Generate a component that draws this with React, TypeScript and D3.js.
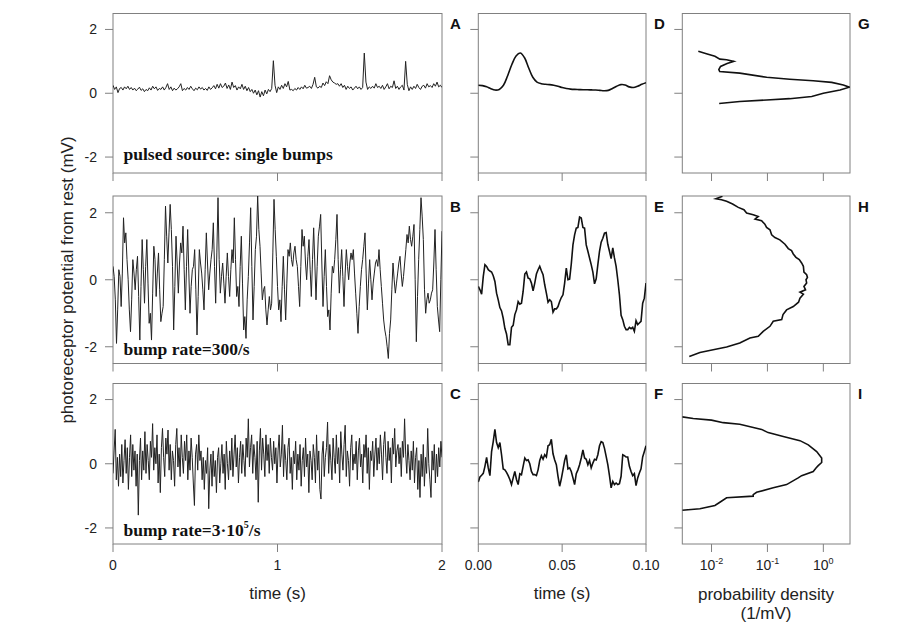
import * as d3 from 'd3';
import React, { useEffect, useRef } from 'react';

// ---- data ----
// A: pulsed source, 0..2 s, dt = 0.01 s (mV)
const singleBumps = [
  0.25, 0.12, 0.2, 0.02, 0.15, 0.18, 0.1, 0.2, 0.14, 0.22, 0.12, 0.18, 0.1, 0.16, 0.08, 0.13, 0.19, 0.09, 0.14, 0.05,
  0.12, 0.08, 0.17, 0.1, 0.22, 0.14, 0.2, 0.09, 0.15, 0.12, 0.2, 0.1, 0.18, 0.3, 0.12, 0.2, 0.08, 0.16, 0.1, 0.14,
  0.2, 0.3, 0.08, 0.15, 0.1, 0.18, 0.12, 0.22, 0.14, 0.08, 0.16, 0.11, 0.2, 0.13, 0.18, 0.1, 0.15, 0.09, 0.2, 0.12,
  0.17, 0.24, 0.14, 0.28, 0.16, 0.3, 0.18, 0.22, 0.32, 0.15, 0.26, 0.12, 0.35, 0.18, 0.24, 0.1, 0.2, 0.14, 0.28, 0.12,
  0.22, 0.08, 0.18, 0.05, 0.12, 0.0, 0.1, -0.05, 0.08, -0.12, 0.05, -0.08, 0.1, -0.02, 0.12, 0.05, 0.15, 1.02, 0.25, 0.02,
  0.2, 0.12, 0.25, 0.15, 0.3, 0.2, 0.37, 0.1, 0.12, 0.08, 0.15, 0.1, 0.18, 0.12, 0.2, 0.14, 0.25, 0.16, 0.18, 0.22,
  0.15, 0.28, 0.5, 0.2, 0.16, 0.22, 0.18, 0.32, 0.24, 0.36, 0.3, 0.55, 0.42, 0.35, 0.32, 0.28, 0.3, 0.22, 0.3, 0.18,
  0.25, 0.12, 0.22, 0.15, 0.2, 0.1, 0.16, 0.22, 0.14, 0.2, 0.12, 0.18, 1.26, 0.35, 0.12, 0.2, 0.15, 0.22, 0.16, 0.3,
  0.18, 0.22, 0.15, 0.25, 0.12, 0.2, 0.3, 0.14, 0.22, 0.18, 0.39, 0.15, 0.22, 0.12, 0.2, 0.25, 0.1, 1.0, 0.28, 0.08,
  0.2, 0.12, 0.22, 0.15, 0.28, 0.18, 0.12, 0.22, 0.25, 0.16, 0.3, 0.2, 0.24, 0.18, 0.3, 0.22, 0.35, 0.2, 0.25, 0.18,
];

// B: bump rate 300/s, 0..2 s, evenly spaced (mV)
const rate300 = [
  0.4, 0.1, -0.6, -1.9, -0.9, 0.3, 0.1, -0.8, 0.2, 1.85, 1.1, 1.4, 0.6, 0.0, -0.9, -1.55, -0.6, 0.6, 0.2, -0.3,
  0.3, 0.7, -0.5, -1.8, -0.2, 1.2, 0.3, -0.7, 0.4, 1.2, -0.1, -1.3, -1.0, -1.8, -0.4, 1.0, 0.6, -0.5, 0.2, 0.8,
  -0.3, -1.25, -1.0, -0.8, 0.6, 2.2, 1.3, 0.5, 1.4, 2.25, 1.5, 0.4, -1.5, -0.2, 1.3, 0.5, -0.4, 0.5, 1.1, 0.8,
  1.6, 0.3, -0.9, 0.4, 1.5, 0.2, -1.0, -0.2, 0.3, 0.4, 0.9, -0.3, -1.65, -0.5, 0.9, 0.5, 0.2, -0.3, -0.9, 0.3,
  1.4, 0.5, -0.3, 0.2, 0.6, 0.9, 1.7, 0.4, -0.7, 0.8, 2.45, 0.6, -0.4, 0.1, 0.5, -0.1, -0.7, 0.1, 0.8, 0.1,
  -0.5, 0.3, 0.9, 0.5, 1.85, 0.6, -0.5, -0.2, -0.8, 0.4, 1.3, -0.1, -1.5, -1.1, -1.75, -0.6, 0.1, 1.1, 2.15, 0.4,
  -1.2, -0.2, 0.9, 1.3, 2.5, 1.5, 1.0, 0.2, -0.6, -0.3, -0.2, -0.9, -1.35, -0.9, -0.5, -0.9, -0.7, 0.8, 2.4, 1.5,
  0.7, -0.2, -0.9, -0.6, -1.25, -0.2, 0.7, -0.3, -1.2, -0.1, 0.9, 0.7, 1.1, 0.6, 0.4, 0.8, 1.0, 0.6, 0.4, -0.2,
  -0.8, 0.4, 1.5, 1.0, 1.3, 0.5, 0.0, 0.7, 1.2, 0.3, -0.5, 0.6, 1.55, 0.5, -0.6, 0.4, 1.3, 1.6, 1.95, 0.5,
  -0.8, 0.1, 0.9, -0.2, -1.1, -0.9, -1.5, -0.4, 0.4, 0.2, 0.6, 1.2, 1.95, 0.6, -0.4, 0.3, 0.9, 0.1, -0.8, 0.2,
  0.9, 0.4, 0.0, 0.5, 0.8, 0.6, 0.9, 0.2, -0.4, -1.0, -1.6, -0.8, -0.2, 0.3, 0.6, 1.0, 1.4, 0.2, -0.9, -0.1,
  0.6, 0.0, -0.6, -0.1, 0.2, 0.5, 0.6, 0.4, 0.9, 0.3, -0.2, -0.7, -1.2, -1.5, -1.7, -2.0, -2.35, -1.6, -1.2, -0.3,
  0.5, 0.0, -0.4, -0.1, 0.2, 0.5, 0.7, 0.2, -0.2, 0.1, 0.5, 0.9, 1.35, 1.1, 1.6, 1.2, 1.0, 1.3, 1.65, 0.0,
  -1.85, -0.5, 0.6, 1.5, 2.45, 1.9, 1.2, -0.3, -1.0, -0.6, -0.4, -0.7, -0.6, -0.4, -0.3, 0.5, 1.5, 0.3, -0.8, -1.2,
  -1.55, 0.0, 1.45,
];

// C: bump rate 3e5/s, 0..2 s, evenly spaced (mV)
const rateHigh = [
  -0.3, 0.4, 1.07, -0.5, 0.2, -0.7, 0.3, -0.4, 0.6, -0.6, 0.1, 0.75, -0.3, 0.5, -0.8, 0.2, 0.9, -0.4, 0.6, -0.2,
  0.4, -0.7, 0.3, -1.6, 0.1, 0.8, -0.5, 0.4, -0.2, 1.0, -0.3, 0.6, 0.1, -0.5, 0.7, 0.2, 1.25, -0.2, 0.5, 0.0,
  0.9, -0.6, 0.3, -0.9, 0.5, 1.1, 0.2, -0.4, 0.8, 0.3, 1.05, -0.2, 0.6, -0.5, 0.4, 0.1, -0.7, 0.6, 1.1, -0.1,
  0.5, -0.4, 0.9, 0.2, -0.3, 0.7, 0.1, 0.9, -0.5, 0.4, -0.2, 0.8, 0.2, -0.6, -1.3, 0.3, 0.6, -0.2, 0.9, 0.1,
  0.4, -0.5, 0.2, -0.8, 0.1, -0.3, 0.5, -1.4, -0.2, 0.3, -0.7, 0.4, -0.4, 0.1, -0.9, 0.2, 0.5, -0.6, 0.0, 0.6,
  -0.3, 0.3, -0.8, 0.7, 0.0, -0.5, 0.4, -0.2, 0.8, -0.4, 0.3, 0.9, -0.1, 0.5, -0.6, 0.2, 0.7, -0.3, 0.6, 0.1,
  -0.4, 0.8, 0.2, 1.4, -0.1, 0.5, 0.9, -0.3, 0.6, 0.2, -0.5, 0.7, -1.2, 0.4, 1.1, -0.2, 0.8, 0.3, -0.4, 0.9,
  0.1, 0.6, -0.3, 0.8, 0.2, -0.2, 0.7, 0.0, 0.5, -0.6, 0.4, 0.9, -0.1, 0.3, 1.2, -0.4, 0.6, 0.1, -0.5, 0.5,
  0.8, -0.3, 0.2, -0.8, 0.4, 0.0, 0.7, -0.5, 0.3, -0.2, 0.6, -0.7, 0.1, 0.5, -0.4, 0.8, -0.1, 0.3, -0.9, 0.4,
  0.1, -0.5, 0.6, 0.2, -0.6, 0.9, -0.2, 0.4, -0.8, -1.1, 0.3, 0.7, -0.4, 0.2, 0.5, 1.3, -0.3, 0.6, 0.1, -0.5,
  0.8, 0.2, -0.3, 0.9, 0.0, 0.5, -0.6, 1.0, 0.3, -0.2, 0.6, 1.2, -0.4, 0.4, 0.1, -0.7, 0.5, 0.9, -0.2, 0.3,
  0.0, 0.7, -0.5, 0.4, 0.8, -0.1, 0.3, -0.6, 0.6, 0.2, 0.9, -0.3, 0.5, -0.8, 0.4, 0.1, 0.7, -0.4, 0.3, 0.8,
  -0.2, 0.5, 0.0, 0.9, 0.3, -0.5, 0.6, 1.0, 0.2, -0.3, 0.7, 0.1, 0.5, -0.6, 0.8, 0.3, 1.1, -0.1, 0.4, 0.6,
  0.0, 0.5, -0.4, 0.7, 0.2, 1.4, 0.3, -0.3, 0.6, 0.1, -0.5, 0.4, -0.2, 0.7, -0.6, 0.2, 0.5, -0.8, 0.1, -1.05,
  0.3, -0.4, 0.6, -0.7, 0.2, -0.3, 1.1, 0.0, -0.5, -1.05, 0.4, -0.2, 0.6, -0.6, 0.3, -0.4, 0.5, -0.1, 0.7, 0.2,
];

// D: single bump, 0..0.1 s, dt = 2.5 ms
const bumpZoom = [
  0.25, 0.24, 0.2, 0.14, 0.1, 0.12, 0.25, 0.55, 0.9, 1.17, 1.26, 1.12, 0.8, 0.5, 0.35, 0.3, 0.28, 0.27, 0.25, 0.22,
  0.18, 0.15, 0.13, 0.12, 0.115, 0.11, 0.11, 0.105, 0.1, 0.09, 0.08, 0.09, 0.15, 0.22, 0.27, 0.26, 0.2, 0.18, 0.22, 0.28,
  0.33,
];

// E: 300/s, first 0.1 s
const rate300Zoom = [
  -0.2, -0.3, -0.43, 0.1, 0.45, 0.4, 0.3, 0.26, 0.23, 0.12, -0.05, -0.4, -0.6, -0.83, -0.93, -1.15, -1.45, -1.62, -1.94, -1.94,
  -1.42, -1.36, -1.04, -0.9, -0.65, -0.73, -0.7, -0.35, 0.17, 0.23, 0.05, 0.03, -0.1, -0.33, -0.1, 0.17, 0.3, 0.4, 0.27, 0.15,
  -0.15, -0.4, -0.67, -0.6, -0.65, -0.97, -0.87, -0.87, -0.8, -0.65, -0.53, -0.45, -0.1, 0.35, 0.0, 0.02, 0.47, 1.04, 1.34, 1.54,
  1.56, 1.87, 1.84, 1.56, 1.54, 1.04, 0.85, 0.65, 0.45, 0.23, -0.12, 0.03, 0.45, 0.85, 1.12, 1.24, 1.39, 1.41, 1.06, 0.85,
  0.63, 0.95, 0.65, 0.4, 0.0, -0.45, -1.06, -1.19, -1.39, -1.49, -1.49, -1.42, -1.46, -1.42, -1.54, -1.22, -1.34, -1.29, -1.24, -0.7,
  -0.55, -0.1,
];

// F: 3e5/s, first 0.1 s
const rateHighZoom = [
  -0.57, -0.41, -0.36, -0.3, -0.08, 0.2, -0.13, -0.37, 0.38, 0.69, 1.07, 0.66, 0.5, 0.66, 0.28, -0.16, -0.19, -0.27, -0.37, -0.49,
  -0.65, -0.44, -0.24, -0.49, -0.65, -0.31, -0.34, -0.08, 0.18, 0.1, 0.12, 0.0, -0.24, -0.34, -0.34, -0.37, -0.19, 0.1, 0.25, 0.14,
  0.28, 0.21, 0.56, 0.59, 0.76, 0.31, 0.12, -0.03, -0.39, -0.7, -0.47, -0.19, 0.1, 0.28, -0.16, -0.13, -0.24, -0.44, -0.65, -0.31,
  -0.19, -0.03, 0.18, 0.43, 0.18, 0.14, -0.03, 0.1, -0.13, 0.02, 0.14, 0.12, 0.28, 0.56, 0.69, 0.66, 0.48, 0.23, -0.03, -0.37,
  -0.75, -0.55, -0.65, -0.6, -0.65, -0.62, -0.39, 0.28, 0.25, 0.21, 0.21, -0.08, -0.24, -0.37, -0.31, -0.68, -0.44, -0.29, -0.16, 0.21,
  0.38, 0.56,
];

// G, H, I: amplitude distributions (voltage in mV, density in 1/mV)
const distSingleV = [1.32, 1.24, 1.16, 1.07, 1.05, 1.0, 0.93, 0.84, 0.74, 0.68, 0.63, 0.5, 0.44, 0.39, 0.34, 0.26, 0.19, 0.1, 0.0, -0.1, -0.17, -0.21, -0.26, -0.32];
const distSingleP = [0.0058, 0.0081, 0.0115, 0.0141, 0.0186, 0.025, 0.019, 0.0145, 0.0135, 0.014, 0.032, 0.097, 0.25, 0.66, 1.41, 2.28, 2.92, 1.99, 1.0, 0.62, 0.25, 0.097, 0.032, 0.0137];

const dist300V = [2.49, 2.42, 2.39, 2.34, 2.26, 2.16, 2.09, 1.99, 1.94, 1.89, 1.81, 1.76, 1.66, 1.56, 1.49, 1.34, 1.26, 1.19, 1.06, 0.93, 0.87, 0.77, 0.67, 0.6, 0.5, 0.4, 0.23, 0.15, 0.07, 0.0, -0.1, -0.2, -0.3, -0.37, -0.43, -0.55, -0.67, -0.8, -0.9, -1.04, -1.19, -1.24, -1.39, -1.54, -1.69, -1.74, -1.89, -2.01, -2.09, -2.17, -2.29];
const dist300P = [0.0157, 0.012, 0.0151, 0.0186, 0.0238, 0.0301, 0.038, 0.0424, 0.0557, 0.0685, 0.06, 0.0786, 0.09, 0.0966, 0.111, 0.119, 0.136, 0.167, 0.206, 0.236, 0.27, 0.29, 0.324, 0.371, 0.409, 0.44, 0.45, 0.503, 0.52, 0.49, 0.503, 0.45, 0.48, 0.382, 0.44, 0.382, 0.36, 0.29, 0.22, 0.19, 0.18, 0.127, 0.111, 0.084, 0.0685, 0.0486, 0.032, 0.0186, 0.0107, 0.0062, 0.004];

const distHighV = [1.46, 1.41, 1.36, 1.28, 1.23, 1.07, 0.97, 0.85, 0.72, 0.59, 0.38, 0.18, 0.04, -0.06, -0.13, -0.24, -0.37, -0.44, -0.65, -0.75, -0.89, -0.96, -1.01, -1.06, -1.2, -1.3, -1.4, -1.45];
const distHighP = [0.003, 0.0047, 0.01, 0.0162, 0.032, 0.0787, 0.103, 0.192, 0.382, 0.538, 0.76, 0.934, 0.934, 0.81, 0.74, 0.66, 0.409, 0.355, 0.22, 0.127, 0.064, 0.0557, 0.0557, 0.0186, 0.0141, 0.0115, 0.0062, 0.003];

const panelLetters = [['A', 'D', 'G'], ['B', 'E', 'H'], ['C', 'F', 'I']];
const voltTicks = [-2, 0, 2];
const longTicks = [0, 1, 2];
const shortTicks = [0, 0.05, 0.1];
const densTicks = [0.01, 0.1, 1];
const densExp = ['-2', '-1', '0'];

const SANS = 'Liberation Sans, Arial, sans-serif';
const SERIF = 'Liberation Serif, Times New Roman, serif';
const FRAME = '#808080';

function App() {
  const ref = useRef<SVGSVGElement>(null);

  useEffect(() => {
    draw();
  });

  const draw = () => {
    const svg = d3.select(ref.current);
    svg.selectAll('*').remove();

    const cols = [[113, 442], [478.3, 646], [682.3, 850]];
    const rows = [[13.5, 173], [196, 363.5], [383.5, 544]];
    const tick = 8;

    const xLong = (c: number[]) => d3.scaleLinear().domain([0, 2]).range(c);
    const xShort = (c: number[]) => d3.scaleLinear().domain([0, 0.1]).range(c);
    const xDens = (c: number[]) => d3.scaleLog().domain([0.003, 3]).range(c);

    const longSeries = [singleBumps, rate300, rateHigh];
    const shortSeries = [bumpZoom, rate300Zoom, rateHighZoom];
    const distV = [distSingleV, dist300V, distHighV];
    const distP = [distSingleP, dist300P, distHighP];

    rows.forEach((r, ri) => {
      const y = d3.scaleLinear().domain([-2.5, 2.5]).range([r[1], r[0]]);

      cols.forEach((c, ci) => {
        const g = svg.append('g');
        const clipId = `clip-${ri}-${ci}`;
        svg.append('clipPath').attr('id', clipId)
          .append('rect').attr('x', c[0]).attr('y', r[0]).attr('width', c[1] - c[0]).attr('height', r[1] - r[0]);

        // frame
        g.append('rect')
          .attr('x', c[0]).attr('y', r[0])
          .attr('width', c[1] - c[0]).attr('height', r[1] - r[0])
          .attr('fill', 'none').attr('stroke', FRAME).attr('stroke-width', 1);

        // y ticks
        voltTicks.forEach(v => {
          g.append('line')
            .attr('x1', c[0] - tick).attr('x2', c[0])
            .attr('y1', y(v)).attr('y2', y(v))
            .attr('stroke', FRAME);
          if (ci === 0) {
            g.append('text')
              .attr('x', c[0] - tick - 8).attr('y', y(v))
              .attr('dy', '0.35em').attr('text-anchor', 'end')
              .attr('font-family', SANS).attr('font-size', 14).attr('fill', '#222')
              .text(String(v));
          }
        });

        // x ticks
        let xs: any;
        let tv: number[];
        if (ci === 0) { xs = xLong(c); tv = longTicks; }
        else if (ci === 1) { xs = xShort(c); tv = shortTicks; }
        else { xs = xDens(c); tv = densTicks; }

        tv.forEach((t, ti) => {
          g.append('line')
            .attr('x1', xs(t)).attr('x2', xs(t))
            .attr('y1', r[1]).attr('y2', r[1] + tick)
            .attr('stroke', FRAME);
          if (ri === 2) {
            const lab = g.append('text')
              .attr('x', xs(t)).attr('y', r[1] + 26)
              .attr('text-anchor', 'middle')
              .attr('font-family', SANS).attr('font-size', 14).attr('fill', '#222');
            if (ci === 0) lab.text(String(t));
            else if (ci === 1) lab.text(d3.format('.2f')(t));
            else {
              lab.append('tspan').text('10');
              lab.append('tspan').attr('dy', -6).attr('font-size', 9).text(densExp[ti]);
            }
          }
        });

        // data
        const plot = g.append('g').attr('clip-path', `url(#${clipId})`);
        if (ci === 0) {
          const vals = longSeries[ri];
          const line = d3.line<number>()
            .x((_, i) => xs((i / (vals.length - 1)) * 2))
            .y(d => y(d));
          plot.append('path').attr('d', line(vals))
            .attr('fill', 'none').attr('stroke', '#222').attr('stroke-width', 1);
        } else if (ci === 1) {
          const vals = shortSeries[ri];
          const line = d3.line<number>()
            .x((_, i) => xs((i / (vals.length - 1)) * 0.1))
            .y(d => y(d))
            .curve(ri === 0 ? d3.curveCatmullRom : d3.curveLinear);
          plot.append('path').attr('d', line(vals))
            .attr('fill', 'none').attr('stroke', '#111').attr('stroke-width', 1.6);
        } else {
          const pts = distV[ri].map((v, i) => [distP[ri][i], v] as [number, number]);
          const line = d3.line<[number, number]>()
            .x(d => xs(d[0]))
            .y(d => y(d[1]));
          plot.append('path').attr('d', line(pts))
            .attr('fill', 'none').attr('stroke', '#111').attr('stroke-width', 1.6);
        }

        // panel letter
        g.append('text')
          .attr('x', c[1] + 8).attr('y', r[0] + 15.5)
          .attr('font-family', SANS).attr('font-weight', 'bold').attr('font-size', 15)
          .attr('fill', '#111')
          .text(panelLetters[ri][ci]);
      });
    });

    // annotations in the left column
    const ann = (yy: number) => svg.append('text')
      .attr('x', 123.5).attr('y', yy)
      .attr('font-family', SERIF).attr('font-weight', 'bold').attr('font-size', 17.5)
      .attr('fill', '#111');
    ann(159.5).text('pulsed source: single bumps');
    ann(354.5).text('bump rate=300/s');
    const a3 = ann(535.5);
    a3.append('tspan').text('bump rate=3\u00b710');
    a3.append('tspan').attr('dy', -8).attr('font-size', 10).text('5');
    a3.append('tspan').attr('dy', 8).text('/s');

    // axis titles
    const title = (x: number, yy: number, s: string) => svg.append('text')
      .attr('x', x).attr('y', yy).attr('text-anchor', 'middle')
      .attr('font-family', SANS).attr('font-size', 17).attr('fill', '#222')
      .text(s);
    title(277.5, 599, 'time (s)');
    title(562, 599, 'time (s)');
    title(766, 600, 'probability density');
    title(766, 619, '(1/mV)');

    svg.append('text')
      .attr('transform', 'translate(73,280) rotate(-90)')
      .attr('text-anchor', 'middle')
      .attr('font-family', SANS).attr('font-size', 17).attr('fill', '#222')
      .text('photoreceptor potential from rest (mV)');
  };

  return (
    <svg ref={ref} width={900} height={637}
      style={{ position: 'absolute', left: 0, top: 0, background: '#fff' }} />
  );
}

export default App;
